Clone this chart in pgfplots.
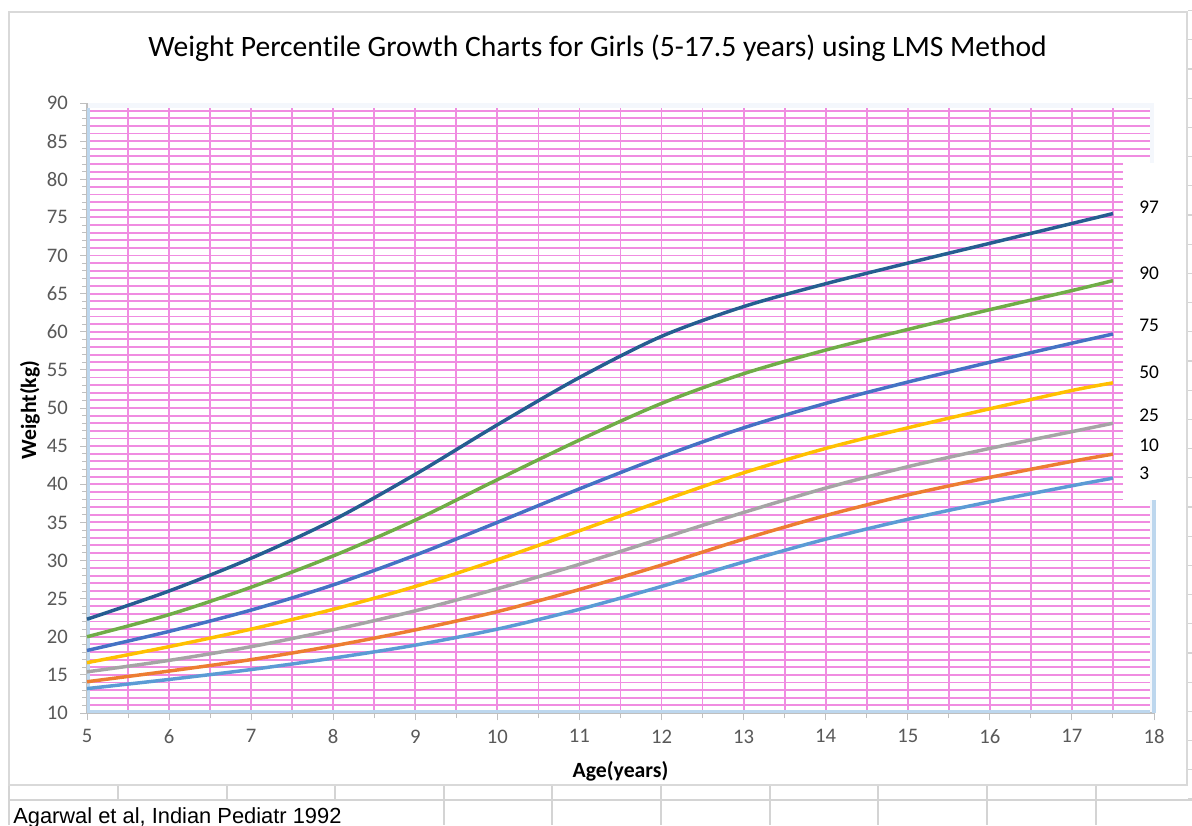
\documentclass[border=0pt]{standalone}
\usepackage{pgfplots}
\pgfplotsset{compat=1.18}
\usepackage{pgfplotstable}
\usepackage{fontspec}
\setmainfont{Carlito}[Ligatures=NoCommon]
\newfontfamily\arialf{Liberation Sans}
\definecolor{c97}{HTML}{255E91}
\definecolor{c90}{HTML}{70AD47}
\definecolor{c75}{HTML}{4472C4}
\definecolor{c50}{HTML}{FFC000}
\definecolor{c25}{HTML}{A5A5A5}
\definecolor{c10}{HTML}{ED7D31}
\definecolor{c3}{HTML}{5B9BD5}
\definecolor{gridpink}{RGB}{240,140,225}
\definecolor{lblue}{RGB}{189,215,238}
\definecolor{framegray}{RGB}{217,217,217}
\definecolor{cellgray}{RGB}{212,212,212}
\definecolor{tickgray}{HTML}{595959}
\definecolor{axgray}{HTML}{BFBFBF}
\definecolor{plotbg}{RGB}{244,247,252}

\pgfplotstableread{
age  p3    p10   p25   p50   p75   p90   p97
5    13.2  14.1  15.4  16.6  18.2  20.0  22.3
6    14.4  15.5  16.9  18.7  20.7  22.9  26.0
7    15.7  17.0  18.7  21.0  23.5  26.5  30.3
8    17.2  18.8  20.9  23.6  26.8  30.6  35.3
9    18.9  20.9  23.4  26.6  30.7  35.3  41.3
10   21.0  23.3  26.3  30.1  35.0  40.6  47.8
11   23.6  26.2  29.5  33.9  39.4  45.8  54.0
12   26.6  29.4  32.9  37.8  43.6  50.6  59.4
13   29.8  32.8  36.3  41.5  47.4  54.5  63.3
14   32.8  35.9  39.5  44.7  50.6  57.6  66.3
15   35.4  38.6  42.3  47.4  53.4  60.3  69.0
16   37.7  40.9  44.7  49.9  56.0  62.9  71.6
17   39.8  43.0  46.9  52.3  58.5  65.4  74.2
17.5 40.8  43.95 48.0  53.3  59.7  66.7  75.5
}\growth

\begin{document}
\begin{tikzpicture}[x=0.75pt,y=0.75pt]
\useasboundingbox (0,0) rectangle (1192,825);
\clip (0,0) rectangle (1192,825);
\fill[white] (0,0) rectangle (1192,825);
% spreadsheet cells around the chart
\draw[cellgray, line width=1.5pt] (9,25) -- (1192,25);
\foreach \cx in {118,227,335}
  \draw[cellgray, line width=1.5pt] (\cx,40) -- (\cx,25);
\foreach \cx in {444,552,661,770,878,987,1096}
  \draw[cellgray, line width=1.5pt] (\cx,40) -- (\cx,0);
\draw[cellgray, line width=1.5pt] (9,40) -- (9,0);
\foreach \k in {0,...,27}
  \draw[cellgray, line width=1pt] (1188,26+29.2*\k) -- (1192,26+29.2*\k);
% chart frame
\draw[framegray, line width=1.5pt] (9,40) rectangle (1187,813);
% title
\node[anchor=base, inner sep=0pt, font=\fontsize{22.2}{26}\selectfont] at (597.5,768)
  {Weight Percentile Growth Charts for Girls (5-17.5 years) using LMS Method};

\begin{axis}[
  at={(65.25pt,84pt)}, anchor=south west,
  width=800.25pt, height=457.5pt, scale only axis,
  xmin=5, xmax=18, ymin=10, ymax=90,
  xtick={5,...,18}, ytick={10,15,...,90},
  minor x tick num=1, minor y tick num=4,
  tick align=outside,
  major tick length=5.25pt, minor tick length=3.75pt,
  tick style={axgray, line width=0.75pt},
  axis x line*=bottom, axis y line*=left,
  axis line style={axgray, line width=1pt, -},
  axis background/.style={fill=plotbg},
  /pgf/number format/assume math mode=true,
  ticklabel style={font=\fontsize{15.5}{18}\selectfont, text=tickgray},
  x tick label style={anchor=north, inner sep=0pt, yshift=-7pt},
  y tick label style={anchor=east, inner sep=0pt, xshift=-9pt},
  xlabel={Age(years)}, ylabel={Weight(kg)},
  label style={font=\fontsize{16.3}{19}\selectfont\bfseries, text=black},
  xlabel style={at={(axis description cs:0.5,-0.0951)}, anchor=center},
  ylabel style={at={(axis description cs:-0.0534,0.4967)}, anchor=center},
  clip=false,
]
\fill[white] (axis cs:5,10) rectangle (axis cs:17.95,89.3);
\pgfplotsinvokeforeach{11,...,89}{
  \draw[gridpink, line width=1.35pt] (axis cs:5,#1) -- (axis cs:17.95,#1);
}
\pgfplotsinvokeforeach{5.5,6,6.5,7,7.5,8,8.5,9,9.5,10,10.5,11,11.5,12,12.5,13,13.5,14,14.5,15,15.5,16,16.5,17,17.5}{
  \draw[gridpink, line width=1.35pt] (axis cs:#1,10) -- (axis cs:#1,89.4);
}
\fill[white] (axis cs:17.62,37.9) rectangle (axis cs:18.08,82.1);
\draw[lblue, line width=2.2pt] (axis cs:5.02,10.15) -- (axis cs:5.02,89.3);
\draw[lblue, line width=2.2pt] (axis cs:5,10.2) -- (axis cs:17.95,10.2);
\draw[lblue, line width=3pt] (axis cs:18,10) -- (axis cs:18,37.9);

\addplot[c3,  line width=2.6pt, smooth] table[x=age,y=p3]  {\growth};
\addplot[c10, line width=2.6pt, smooth] table[x=age,y=p10] {\growth};
\addplot[c25, line width=2.6pt, smooth] table[x=age,y=p25] {\growth};
\addplot[c50, line width=2.6pt, smooth] table[x=age,y=p50] {\growth};
\addplot[c75, line width=2.6pt, smooth] table[x=age,y=p75] {\growth};
\addplot[c90, line width=2.6pt, smooth] table[x=age,y=p90] {\growth};
\addplot[c97, line width=2.6pt, smooth] table[x=age,y=p97] {\growth};
\end{axis}

% percentile labels
\begin{scope}[every node/.style={anchor=west, inner sep=0pt, font=\fontsize{14.5}{17}\selectfont}]
\node at (1139,825-207) {97};
\node at (1139,825-273) {90};
\node at (1139,825-325) {75};
\node at (1139,825-372) {50};
\node at (1139,825-415) {25};
\node at (1139,825-445) {10};
\node at (1139,825-473) {3};
\end{scope}

% source note
\node[anchor=base west, inner sep=0pt, font=\arialf\fontsize{16.4}{19}\selectfont] at (13,2)
  {Agarwal et al, Indian Pediatr 1992};
\end{tikzpicture}
\end{document}
